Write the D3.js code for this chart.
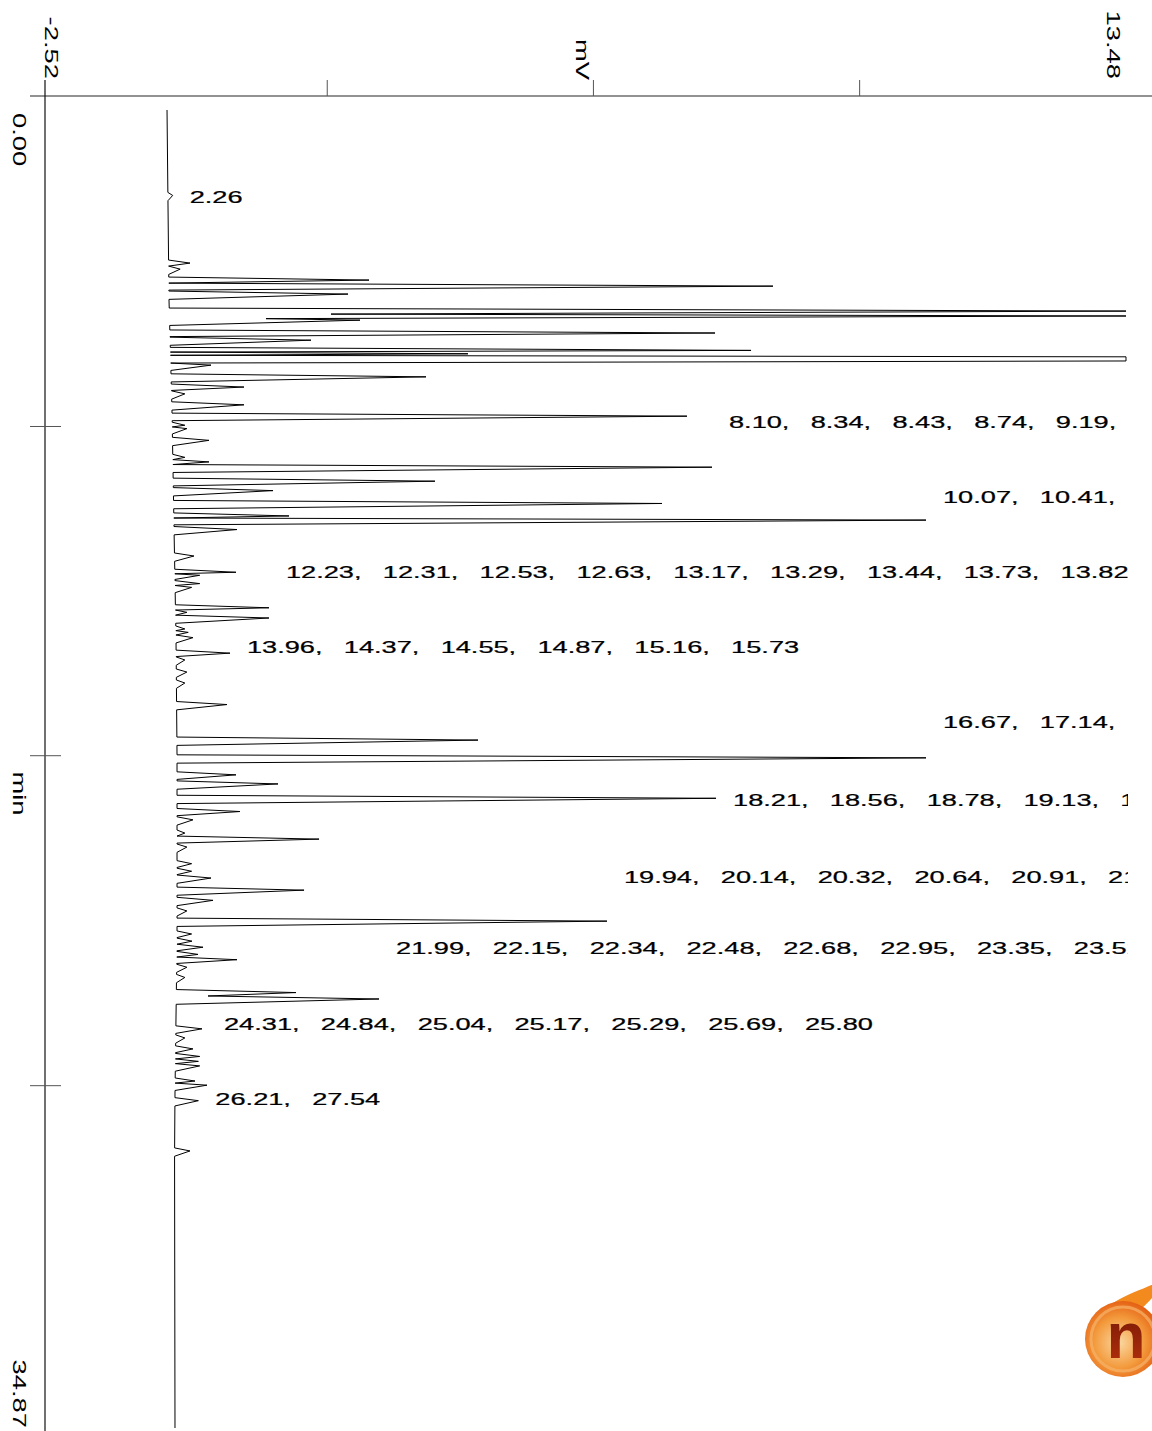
<!DOCTYPE html>
<html>
<head>
<meta charset="utf-8">
<script src="https://cdn.jsdelivr.net/npm/d3@7"></script>
<style>
  body { margin: 0; background: #fff; }
  svg { display: block; font-family: "Liberation Sans", Arial, sans-serif; }
</style>
</head>
<body>
<svg id="chart"></svg>
<script>
const width = 1152, height = 1431;

// axes
const mvDomain = [-2.52, 13.48];
const minDomain = [0, 34.87];
const mvTicks = [1.65, 5.59, 9.53];
const minTicks = [8.36, 17.07, 25.8];

// baseline drift (min, mV)
const baseT  = [0, 5, 8, 11, 14, 17, 22, 26, 30, 34.87];
const baseMv = [-0.714, -0.685, -0.640, -0.611, -0.581, -0.566, -0.566, -0.596, -0.611, -0.596];

// peak apexes (min, mV)
const peakT = [2.26, 4.05, 4.21, 4.50, 4.66, 4.87, 5.32, 5.45, 5.56, 5.90, 6.09, 6.36, 6.45, 6.53, 6.64, 6.75,
  7.06, 7.33, 7.51, 7.80, 8.10, 8.34, 8.43, 8.74, 9.19, 9.31, 9.45, 9.82, 10.07, 10.41, 10.74, 10.85, 11.10,
  11.80, 12.23, 12.31, 12.53, 12.63, 13.17, 13.29, 13.44, 13.73, 13.82, 13.96, 14.37, 14.55, 14.87, 15.16, 15.73,
  16.67, 17.14, 17.59, 17.83, 18.21, 18.56, 18.78, 19.13, 19.29, 19.50, 19.94, 20.14, 20.32, 20.64, 20.91, 21.19,
  21.46, 21.80, 21.99, 22.15, 22.34, 22.48, 22.68, 22.95, 23.35, 23.52, 24.31, 24.55, 24.84, 25.04, 25.17, 25.29,
  25.69, 25.80, 26.21, 27.54];
const peakMv = [-0.63, -0.374, -0.52, 2.276, 8.255, 1.965, 15, 15, 2.142, 7.397, 1.417, 7.93, 3.74, 15, 15, -0.063,
  3.119, 0.425, -0.45, 0.425, 6.982, -0.45, -0.42, -0.093, -0.45, -0.093, 7.352, 3.252, 0.855, 6.612, 1.092, 10.52, 0.322,
  -0.315, 0.307, -0.23, -0.23, -0.35, 0.795, -0.42, 0.795, -0.45, -0.40, -0.33, 0.218, -0.45, -0.42, -0.45, 0.174,
  3.889, 10.52, 0.307, 0.929, 7.412, 0.366, -0.33, -0.45, 1.536, -0.42, -0.35, -0.35, -0.063, 1.314, -0.033, -0.42,
  5.798, -0.35, -0.344, -0.181, -0.255, 0.322, -0.42, -0.45, 1.195, 2.424, -0.196, -0.45, -0.33, -0.23, -0.25, -0.23,
  -0.30, -0.122, -0.25, -0.374];

// valleys between overlapping peaks (min, mV)
const valleyT  = [5.40, 5.52, 6.585, 23.44];
const valleyMv = [1.713, 0.751, 15, -0.107];

// peak label rows (retention times) and the time each row sits at
const labelRows = [
  ["2.26"],
  ["8.10", "8.34", "8.43", "8.74", "9.19", "9.31", "9.45", "9.82"],
  ["10.07", "10.41", "10.74", "10.85", "11.10"],
  ["12.23", "12.31", "12.53", "12.63", "13.17", "13.29", "13.44", "13.73", "13.82"],
  ["13.96", "14.37", "14.55", "14.87", "15.16", "15.73"],
  ["16.67", "17.14", "17.59", "17.83"],
  ["18.21", "18.56", "18.78", "19.13", "19.29", "19.50"],
  ["19.94", "20.14", "20.32", "20.64", "20.91", "21.46"],
  ["21.99", "22.15", "22.34", "22.48", "22.68", "22.95", "23.35", "23.52"],
  ["24.31", "24.84", "25.04", "25.17", "25.29", "25.69", "25.80"],
  ["26.21", "27.54"]
];
const labelRowT = [2.30, 8.25, 10.24, 12.22, 14.20, 16.19, 18.25, 20.29, 22.17, 24.18, 26.16];

const svg = d3.select("#chart").attr("width", width).attr("height", height);

const x = d3.scaleLinear().domain(mvDomain).range([45, 1126]);
const y = d3.scaleLinear().domain(minDomain).range([110, 1428]);
const base = d3.scaleLinear().domain(baseT).range(baseMv);
const fmt = v => v.toFixed(2);

const axisTop = y(0) - 14;
const axisLeft = x(mvDomain[0]);

// top (mV) axis
svg.append("line")
  .attr("x1", axisLeft - 15).attr("x2", width)
  .attr("y1", axisTop).attr("y2", axisTop)
  .attr("stroke", "#6e6e6e").attr("stroke-width", 1.5);
const gx = svg.append("g").attr("transform", `translate(0,${axisTop})`)
  .call(d3.axisTop(x).tickValues(mvTicks).tickSize(16).tickFormat(""));
gx.select(".domain").remove();
gx.selectAll(".tick line").attr("stroke", "#555");

// left (min) axis
svg.append("line")
  .attr("x1", axisLeft).attr("x2", axisLeft)
  .attr("y1", axisTop - 16).attr("y2", height)
  .attr("stroke", "#111").attr("stroke-width", 1.2);
const gy = svg.append("g").attr("transform", `translate(${axisLeft + 16},0)`)
  .call(d3.axisLeft(y).tickValues(minTicks).tickSize(31).tickFormat(""));
gy.select(".domain").remove();
gy.selectAll(".tick line").attr("stroke", "#555");

// rotated axis labels
function vlabel(txt, tx, ty, anchor) {
  svg.append("text")
    .attr("transform", `translate(${tx},${ty}) rotate(90) scale(1.48,1)`)
    .attr("text-anchor", anchor)
    .attr("font-size", 18.5)
    .attr("fill", "#000")
    .text(txt);
}
vlabel(fmt(mvDomain[0]), axisLeft, axisTop - 17, "end");
vlabel("mV", x(5.34), axisTop - 16, "end");
vlabel(fmt(mvDomain[1]), x(mvDomain[1]) - 19, axisTop - 17, "end");
vlabel(fmt(minDomain[0]), 13, y(0) + 3, "start");
vlabel("min", 13, y(17.5), "start");
vlabel(fmt(minDomain[1]), 13, y(minDomain[1]), "end");

// trace
const rise = 0.08, fall = 0.14;
const events = peakT.map((t, i) => ({ t, mv: peakMv[i], peak: true }))
  .concat(valleyT.map((t, i) => ({ t, mv: valleyMv[i], peak: false })))
  .sort((a, b) => a.t - b.t);
const pts = [[minDomain[0], base(minDomain[0])]];
events.forEach((e, i) => {
  const last = pts[pts.length - 1][0];
  if (e.peak) {
    const prev = events[i - 1];
    if (!prev || prev.peak) {
      const t0 = Math.max(e.t - rise, last);
      pts.push([t0, base(t0)]);
    }
    pts.push([e.t, e.mv]);
    const next = events[i + 1];
    if (!next || next.peak) {
      const t1 = next ? Math.min(e.t + fall, (e.t + next.t) / 2) : e.t + fall;
      pts.push([t1, base(t1)]);
    }
  } else {
    pts.push([e.t, e.mv]);
  }
});
pts.push([minDomain[1], base(minDomain[1])]);

const line = d3.line()
  .x(d => x(Math.min(d[1], mvDomain[1])))
  .y(d => y(d[0]));
svg.append("path")
  .datum(pts)
  .attr("fill", "none")
  .attr("stroke", "#000")
  .attr("stroke-width", 1)
  .attr("stroke-linejoin", "round")
  .attr("d", line);

// peak labels
svg.append("clipPath").attr("id", "plotclip")
  .append("rect").attr("x", 0).attr("y", 0).attr("width", x(mvDomain[1]) + 2).attr("height", height);
const labels = svg.append("g").attr("clip-path", "url(#plotclip)");
labelRows.forEach((row, i) => {
  const lo = +row[0] - 0.02, hi = +row[row.length - 1] + 0.02;
  const top = d3.max(peakT.map((t, j) => (t >= lo && t <= hi) ? peakMv[j] : -Infinity));
  labels.append("text")
    .attr("transform", `translate(${x(top) + 17},${y(labelRowT[i])}) scale(1.58,1)`)
    .attr("dominant-baseline", "central")
    .attr("font-size", 17.2)
    .attr("word-spacing", 8.7)
    .attr("fill", "#000")
    .attr("stroke", "#000").attr("stroke-width", 0.25)
    .text(row.join(", ") + (i === 1 || i === 2 || i === 5 ? "," : ""));
});

// logo badge
const defs = svg.append("defs");
const grad = defs.append("radialGradient").attr("id", "logoGrad").attr("cx", "45%").attr("cy", "55%").attr("r", "60%");
grad.append("stop").attr("offset", "0%").attr("stop-color", "#fbd7a0");
grad.append("stop").attr("offset", "55%").attr("stop-color", "#f39a3c");
grad.append("stop").attr("offset", "100%").attr("stop-color", "#e2560d");
const nGrad = defs.append("linearGradient").attr("id", "nGrad").attr("x1", 0).attr("y1", 0).attr("x2", 0).attr("y2", 1);
nGrad.append("stop").attr("offset", "0%").attr("stop-color", "#6e1405");
nGrad.append("stop").attr("offset", "100%").attr("stop-color", "#b8320c");
const logo = svg.append("g").attr("transform", "translate(1123,1339)");
logo.append("path")
  .attr("d", "M-10,-36 C10,-48 28,-52 40,-60 C34,-44 26,-38 18,-30 Z")
  .attr("fill", "#f28a1e");
logo.append("circle").attr("r", 38).attr("fill", "url(#logoGrad)");
logo.append("circle").attr("r", 32).attr("fill", "none").attr("stroke", "#f7b36a").attr("stroke-width", 3).attr("opacity", 0.7);
logo.append("text")
  .attr("x", 3).attr("y", 19)
  .attr("text-anchor", "middle")
  .attr("font-size", 64).attr("font-weight", "bold")
  .attr("fill", "url(#nGrad)")
  .text("n");
</script>
</body>
</html>
